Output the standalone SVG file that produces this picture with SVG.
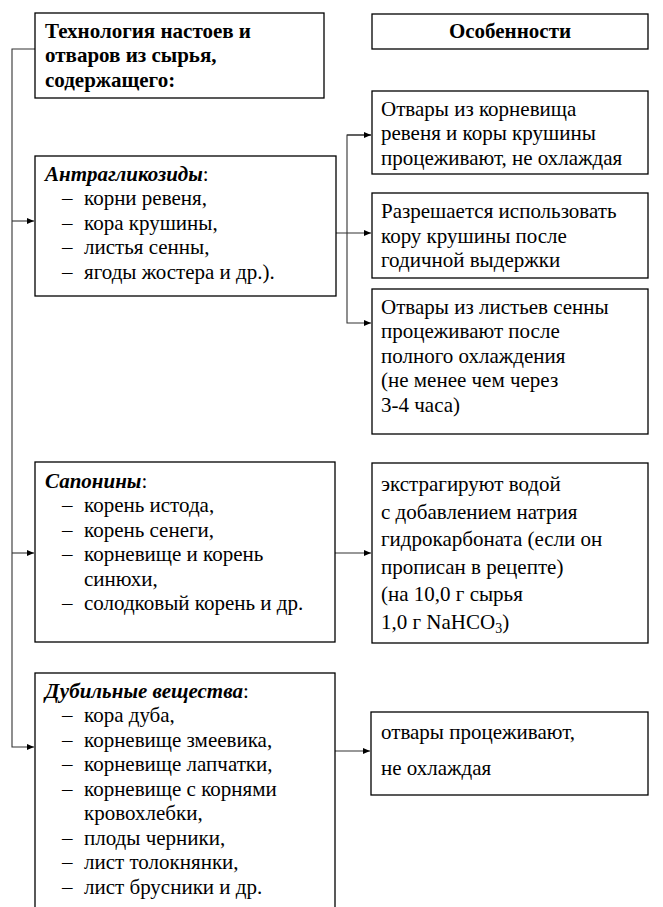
<svg xmlns="http://www.w3.org/2000/svg" width="663" height="907" viewBox="0 0 663 907">
<style>
.box{fill:#fff;stroke:#000;stroke-width:1.3}
.t{font-family:'Liberation Serif',Tinos,'Times New Roman',Times,'DejaVu Serif',serif;font-size:21px;fill:#000}
.b{font-weight:bold}
.bi{font-weight:bold;font-style:italic}
.c{fill:none;stroke:#333;stroke-width:1.1}
</style>
<defs>
<marker id="ah" markerWidth="8" markerHeight="6" refX="7" refY="3" orient="auto" markerUnits="userSpaceOnUse">
<path d="M0,0 L7,3 L0,6 Z" fill="#000"/>
</marker>
</defs>
<g id="connectors">
<path class="c" d="M35,49 H12 V747 H34" marker-end="url(#ah)"/>
<path class="c" d="M12,221 H34" marker-end="url(#ah)"/>
<path class="c" d="M12,553 H34" marker-end="url(#ah)"/>
<path class="c" d="M336,233 H371" marker-end="url(#ah)"/>
<path class="c" d="M371,135 H347 V323 H371" marker-end="url(#ah)"/>
<path class="c" d="M347,135 H371" marker-end="url(#ah)"/>
<path class="c" d="M335,553 H371" marker-end="url(#ah)"/>
<path class="c" d="M335,751 H370" marker-end="url(#ah)"/>
</g>
<g id="header" font-family="Liberation Serif, serif">
<rect class="box" x="35" y="13" width="289" height="85"/>
<text class="t b" x="45" y="38">Технология настоев и</text>
<text class="t b" x="45" y="62">отваров из сырья,</text>
<text class="t b" x="45" y="87">содержащего:</text>
</g>
<g id="features">
<rect class="box" x="372" y="14" width="276" height="35"/>
<text class="t b" x="510" y="38" text-anchor="middle">Особенности</text>
</g>
<g id="anthraglycosides">
<rect class="box" x="35" y="156" width="301" height="140"/>
<text class="t" x="45" y="181"><tspan class="bi">Антрагликозиды</tspan>:</text>
<text class="t" x="62" y="205">–</text><text class="t" x="84" y="205">корни ревеня,</text>
<text class="t" x="62" y="230">–</text><text class="t" x="84" y="230">кора крушины,</text>
<text class="t" x="62" y="254">–</text><text class="t" x="84" y="254">листья сенны,</text>
<text class="t" x="62" y="279">–</text><text class="t" x="84" y="279">ягоды жостера и др.).</text>
</g>
<g id="note1">
<rect class="box" x="372" y="91" width="276" height="83"/>
<text class="t" x="381" y="116">Отвары из корневища</text>
<text class="t" x="381" y="140">ревеня и коры крушины</text>
<text class="t" x="381" y="165">процеживают, не охлаждая</text>
</g>
<g id="note2">
<rect class="box" x="372" y="193" width="276" height="85"/>
<text class="t" x="381" y="218">Разрешается использовать</text>
<text class="t" x="381" y="243">кору крушины после</text>
<text class="t" x="381" y="267">годичной выдержки</text>
</g>
<g id="note3">
<rect class="box" x="372" y="289" width="276" height="145"/>
<text class="t" x="381" y="314">Отвары из листьев сенны</text>
<text class="t" x="381" y="338">процеживают после</text>
<text class="t" x="381" y="363">полного охлаждения</text>
<text class="t" x="381" y="387">(не менее чем через</text>
<text class="t" x="381" y="412">3-4 часа)</text>
</g>
<g id="saponins">
<rect class="box" x="35" y="462" width="300" height="180"/>
<text class="t" x="45" y="488"><tspan class="bi">Сапонины</tspan>:</text>
<text class="t" x="62" y="512">–</text><text class="t" x="84" y="512">корень истода,</text>
<text class="t" x="62" y="537">–</text><text class="t" x="84" y="537">корень сенеги,</text>
<text class="t" x="62" y="561">–</text><text class="t" x="84" y="561">корневище и корень</text>
<text class="t" x="84" y="586">синюхи,</text>
<text class="t" x="62" y="610">–</text><text class="t" x="84" y="610">солодковый корень и др.</text>
</g>
<g id="note4">
<rect class="box" x="372" y="463" width="276" height="180"/>
<text class="t" x="381" y="491">экстрагируют водой</text>
<text class="t" x="381" y="519">с добавлением натрия</text>
<text class="t" x="381" y="546">гидрокарбоната (если он</text>
<text class="t" x="381" y="574">прописан в рецепте)</text>
<text class="t" x="381" y="601">(на 10,0 г сырья</text>
<text class="t" x="381" y="629">1,0 г NaHCO<tspan font-size="14" dy="4">3</tspan><tspan dy="-4">)</tspan></text>
</g>
<g id="tannins">
<rect class="box" x="35" y="673" width="300" height="260"/>
<text class="t" x="45" y="698"><tspan class="bi">Дубильные вещества</tspan>:</text>
<text class="t" x="62" y="722">–</text><text class="t" x="84" y="722">кора дуба,</text>
<text class="t" x="62" y="747">–</text><text class="t" x="84" y="747">корневище змеевика,</text>
<text class="t" x="62" y="771">–</text><text class="t" x="84" y="771">корневище лапчатки,</text>
<text class="t" x="62" y="796">–</text><text class="t" x="84" y="796">корневище с корнями</text>
<text class="t" x="84" y="820">кровохлебки,</text>
<text class="t" x="62" y="845">–</text><text class="t" x="84" y="845">плоды черники,</text>
<text class="t" x="62" y="869">–</text><text class="t" x="84" y="869">лист толокнянки,</text>
<text class="t" x="62" y="894">–</text><text class="t" x="84" y="894">лист брусники и др.</text>
</g>
<g id="note5">
<rect class="box" x="371" y="712" width="277" height="83"/>
<text class="t" x="381" y="739">отвары процеживают,</text>
<text class="t" x="381" y="775">не охлаждая</text>
</g>
</svg>
